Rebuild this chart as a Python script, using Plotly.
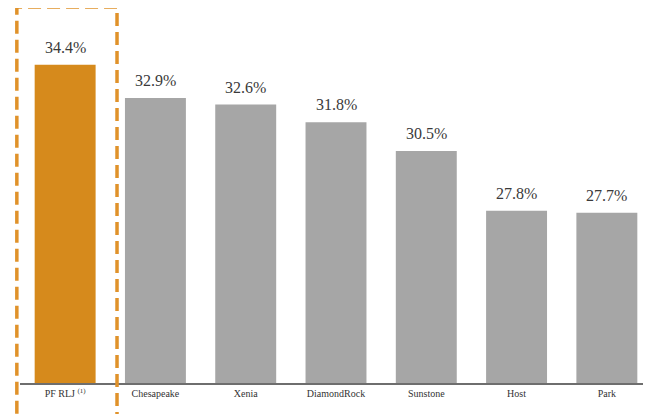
import plotly.graph_objects as go

categories = ["PF RLJ <sup>(1)</sup>", "Chesapeake", "Xenia", "DiamondRock", "Sunstone", "Host", "Park"]
values = [34.4, 32.9, 32.6, 31.8, 30.5, 27.8, 27.7]
labels = ["34.4%", "32.9%", "32.6%", "31.8%", "30.5%", "27.8%", "27.7%"]
colors = ["#D68A1C"] + ["#A6A6A6"] * 6

SERIF = "Times New Roman"

xs = list(range(len(categories)))
fig = go.Figure(go.Bar(
    x=xs, y=values,
    marker=dict(color=colors, line=dict(width=0)),
    width=0.675,
    hoverinfo="skip",
))

for xi, v, lab in zip(xs, values, labels):
    fig.add_annotation(x=xi, y=v, xref="x", yref="y", text=lab, showarrow=False,
                       yanchor="bottom", yshift=7,
                       font=dict(family=SERIF, size=16, color="#3A3A3A"))

fig.add_shape(type="rect", xref="paper", yref="paper",
              x0=-0.005, x1=0.1535, y0=-0.25, y1=1.003,
              line=dict(color="#E0922A", width=3.5, dash="13px,6px"))

fig.update_layout(
    width=651, height=414,
    margin=dict(l=12, r=7, t=0, b=39, autoexpand=False),
    paper_bgcolor="white", plot_bgcolor="white",
    showlegend=False,
    font=dict(family=SERIF),
    xaxis=dict(tickmode="array", tickvals=xs, ticktext=categories,
               range=[-0.5, 6.5], showgrid=False, ticks="", automargin=False,
               showline=True, linecolor="#6E6E6E", linewidth=2,
               tickfont=dict(family=SERIF, size=10, color="#333333")),
    yaxis=dict(range=[20, 36.97], visible=False, showgrid=False, automargin=False),
)

fig.write_html("out.html")
